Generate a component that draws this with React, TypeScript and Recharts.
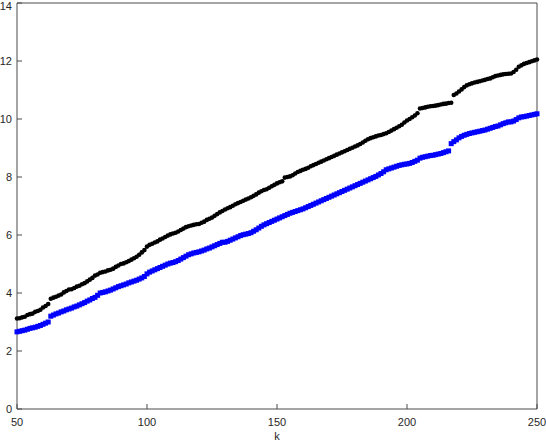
import { ScatterChart, Scatter, XAxis, YAxis } from 'recharts';

// k runs over every integer from 50 to 250
const K_START = 50;

const blackVals = [
  3.12, 3.13, 3.16, 3.18, 3.24, 3.27, 3.29, 3.35, 3.38, 3.42,
  3.50, 3.55, 3.62, 3.80, 3.84, 3.87, 3.91, 3.95, 4.02, 4.07,
  4.12, 4.13, 4.17, 4.22, 4.25, 4.30, 4.34, 4.40, 4.46, 4.52,
  4.60, 4.64, 4.70, 4.72, 4.74, 4.78, 4.80, 4.84, 4.90, 4.95,
  5.00, 5.02, 5.06, 5.10, 5.15, 5.20, 5.25, 5.32, 5.40, 5.48,
  5.60, 5.66, 5.70, 5.74, 5.78, 5.84, 5.88, 5.93, 5.98, 6.02,
  6.05, 6.08, 6.12, 6.17, 6.22, 6.27, 6.30, 6.33, 6.35, 6.37,
  6.38, 6.42, 6.46, 6.52, 6.56, 6.60, 6.66, 6.72, 6.78, 6.83,
  6.88, 6.92, 6.96, 7.01, 7.06, 7.10, 7.14, 7.18, 7.22, 7.26,
  7.30, 7.35, 7.40, 7.46, 7.51, 7.55, 7.58, 7.63, 7.68, 7.73,
  7.78, 7.82, 7.85, 7.98, 8.00, 8.02, 8.06, 8.12, 8.17, 8.21,
  8.25, 8.28, 8.32, 8.37, 8.41, 8.45, 8.49, 8.53, 8.57, 8.61,
  8.65, 8.69, 8.73, 8.77, 8.81, 8.85, 8.89, 8.93, 8.97, 9.01,
  9.05, 9.09, 9.14, 9.19, 9.25, 9.30, 9.34, 9.37, 9.40, 9.43,
  9.45, 9.48, 9.51, 9.55, 9.60, 9.65, 9.70, 9.75, 9.80, 9.88,
  9.95, 10.00, 10.06, 10.12, 10.20, 10.36, 10.38, 10.40, 10.42, 10.44,
  10.45, 10.46, 10.48, 10.50, 10.52, 10.53, 10.55, 10.56, 10.83, 10.88,
  10.95, 11.02, 11.10, 11.16, 11.20, 11.23, 11.26, 11.28, 11.30, 11.33,
  11.35, 11.38, 11.40, 11.44, 11.48, 11.50, 11.52, 11.54, 11.55, 11.56,
  11.57, 11.62, 11.70, 11.80, 11.85, 11.90, 11.93, 11.96, 11.99, 12.02,
  12.05,
];

const blueVals = [
  2.66, 2.68, 2.70, 2.72, 2.75, 2.78, 2.80, 2.82, 2.85, 2.88,
  2.92, 2.96, 3.00, 3.20, 3.24, 3.28, 3.31, 3.35, 3.38, 3.42,
  3.45, 3.48, 3.52, 3.55, 3.59, 3.63, 3.67, 3.72, 3.76, 3.81,
  3.85, 3.92, 4.00, 4.02, 4.04, 4.07, 4.10, 4.14, 4.18, 4.22,
  4.25, 4.28, 4.31, 4.35, 4.38, 4.41, 4.44, 4.48, 4.52, 4.57,
  4.66, 4.72, 4.76, 4.80, 4.84, 4.88, 4.92, 4.96, 5.00, 5.03,
  5.05, 5.08, 5.12, 5.17, 5.22, 5.27, 5.32, 5.35, 5.38, 5.40,
  5.42, 5.45, 5.48, 5.52, 5.55, 5.59, 5.63, 5.67, 5.71, 5.75,
  5.75, 5.78, 5.82, 5.86, 5.90, 5.94, 5.98, 6.01, 6.03, 6.05,
  6.08, 6.13, 6.18, 6.24, 6.30, 6.35, 6.39, 6.43, 6.47, 6.51,
  6.55, 6.59, 6.63, 6.67, 6.71, 6.75, 6.78, 6.81, 6.84, 6.87,
  6.90, 6.94, 6.98, 7.02, 7.06, 7.10, 7.14, 7.18, 7.22, 7.26,
  7.30, 7.34, 7.38, 7.42, 7.46, 7.50, 7.54, 7.58, 7.62, 7.66,
  7.70, 7.74, 7.78, 7.82, 7.86, 7.90, 7.94, 7.98, 8.02, 8.07,
  8.12, 8.18, 8.25, 8.28, 8.31, 8.34, 8.37, 8.40, 8.42, 8.44,
  8.45, 8.47, 8.50, 8.54, 8.58, 8.65, 8.68, 8.70, 8.72, 8.74,
  8.75, 8.77, 8.79, 8.81, 8.84, 8.87, 8.90, 9.15, 9.22, 9.28,
  9.35, 9.40, 9.44, 9.47, 9.50, 9.52, 9.54, 9.56, 9.58, 9.60,
  9.62, 9.65, 9.68, 9.71, 9.74, 9.76, 9.80, 9.84, 9.87, 9.90,
  9.90, 9.93, 9.98, 10.04, 10.07, 10.08, 10.10, 10.12, 10.14, 10.16,
  10.18,
];

const xTicks = [50, 100, 150, 200, 250];
const yTicks = [0, 2, 4, 6, 8, 10, 12, 14];

const blackData = blackVals.map((v, i) => ({ k: K_START + i, v }));
const blueData = blueVals.map((v, i) => ({ k: K_START + i, v }));

const axisColor = '#4a4a4a';
const fontFamily = 'Liberation Sans, Arial, sans-serif';
const tickFont = { fontSize: 11, fill: '#262626', fontFamily };

const BlackDot = (props: any) => (
  <circle cx={props.cx} cy={props.cy} r={2.3} fill="#000000" />
);

const BlueSquare = (props: any) => (
  <rect x={props.cx - 2.5} y={props.cy - 2.5} width={5} height={5} fill="#0000ff" />
);

const NoTick = () => <g />;

export default function App() {
  return (
    <div style={{ width: 546, height: 442 }}>
      <style>{'body{margin:0}'}</style>
      <ScatterChart
        width={546}
        height={442}
        margin={{ top: 2, right: 8, bottom: 0, left: 0 }}
      >
        <XAxis
          xAxisId="b"
          type="number"
          dataKey="k"
          domain={[50, 250]}
          ticks={xTicks}
          height={33}
          stroke={axisColor}
          tickSize={-5}
          tickMargin={14}
          tick={tickFont}
          label={{ value: 'k', position: 'insideBottom', offset: 2, fontSize: 11, fill: '#262626', fontFamily }}
        />
        <XAxis
          xAxisId="t"
          orientation="top"
          type="number"
          dataKey="k"
          domain={[50, 250]}
          ticks={xTicks}
          height={1}
          stroke={axisColor}
          tickSize={-5}
          tick={NoTick}
        />
        <YAxis
          yAxisId="l"
          type="number"
          dataKey="v"
          domain={[0, 14]}
          ticks={yTicks}
          width={17}
          stroke={axisColor}
          tickSize={-5}
          tickMargin={10}
          tick={tickFont}
        />
        <YAxis
          yAxisId="r"
          orientation="right"
          type="number"
          dataKey="v"
          domain={[0, 14]}
          ticks={yTicks}
          width={1}
          stroke={axisColor}
          tickSize={-5}
          tick={NoTick}
        />
        <Scatter
          xAxisId="b"
          yAxisId="l"
          data={blueData}
          dataKey="v"
          shape={BlueSquare}
          isAnimationActive={false}
        />
        <Scatter
          xAxisId="b"
          yAxisId="l"
          data={blackData}
          dataKey="v"
          shape={BlackDot}
          isAnimationActive={false}
        />
      </ScatterChart>
    </div>
  );
}
